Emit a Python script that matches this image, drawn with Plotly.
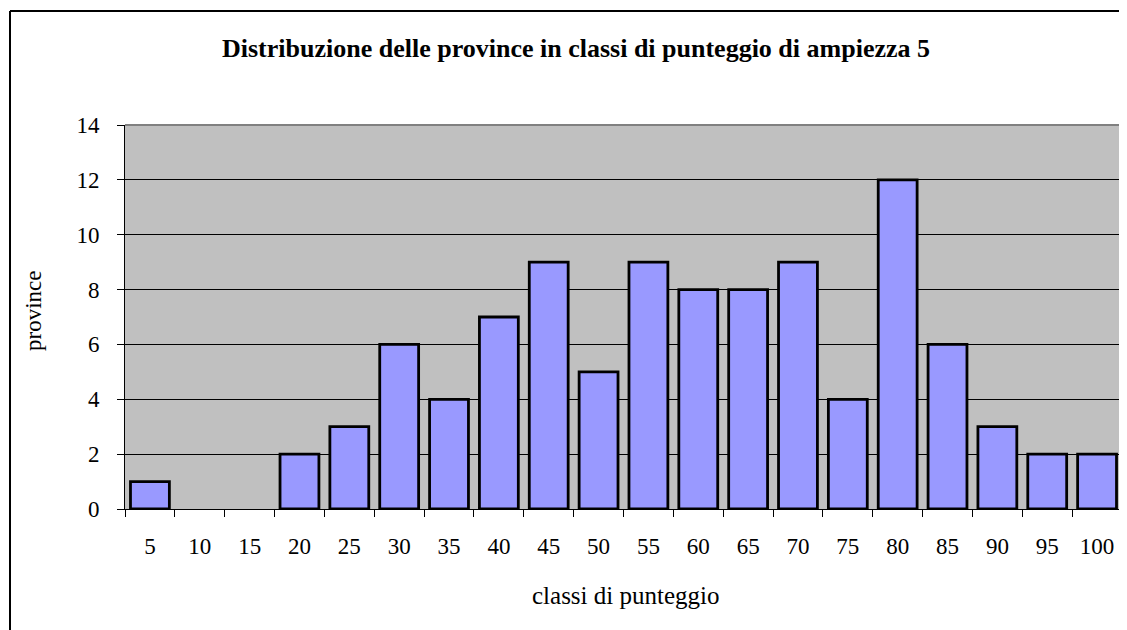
import plotly.graph_objects as go

categories = ["5", "10", "15", "20", "25", "30", "35", "40", "45", "50",
              "55", "60", "65", "70", "75", "80", "85", "90", "95", "100"]
values = [1, 0, 0, 2, 3, 6, 4, 7, 9, 5, 9, 8, 8, 9, 4, 12, 6, 3, 2, 2]
y_ticks = [0, 2, 4, 6, 8, 10, 12, 14]

FONT = "Liberation Serif"

fig = go.Figure()
fig.add_trace(go.Bar(
    x=categories, y=values,
    marker=dict(color="#9999FF",
                line=dict(color="black", width=[2.8 if v > 0 else 0 for v in values])),
    hoverinfo="x+y",
))

# page body has an 8px margin: figure is shifted by 8px right/down
fig.update_layout(
    width=1119, height=622,
    margin=dict(l=117, r=5, t=117, b=121),
    paper_bgcolor="white",
    plot_bgcolor="#C0C0C0",
    bargap=0.22,
    showlegend=False,
    font=dict(family=FONT, size=23, color="black"),
    title=dict(
        text="<b>Distribuzione delle province in classi di punteggio di ampiezza 5</b>",
        x=(576 - 8) / 1119, xref="container", xanchor="center",
        y=1 - (48 - 8) / 622, yref="container", yanchor="middle",
        font=dict(family=FONT, size=26, color="black"),
    ),
)

fig.update_xaxes(
    type="category",
    tickson="boundaries",
    ticks="outside", ticklen=7, tickcolor="black", tickwidth=1,
    showline=True, linecolor="black", linewidth=1,
    showgrid=False,
    ticklabelstandoff=16,
    tickfont=dict(family=FONT, size=23),
)
fig.update_yaxes(
    range=[0, 14],
    tickvals=y_ticks,
    ticks="outside", ticklen=7, tickcolor="black", tickwidth=1,
    showline=True, linecolor="black", linewidth=1,
    showgrid=True, gridcolor="black", gridwidth=1,
    zeroline=False,
    ticklabelstandoff=13,
    tickfont=dict(family=FONT, size=23),
)

# axis titles
fig.add_annotation(text="classi di punteggio", xref="paper", yref="paper",
                   x=(625 - 125) / 997, y=(509 - 595) / 384,
                   xanchor="center", yanchor="middle", showarrow=False,
                   font=dict(family=FONT, size=25, color="black"))
fig.add_annotation(text="province", xref="paper", yref="paper",
                   x=(33 - 125) / 997, y=(509 - 311) / 384, textangle=-90,
                   xanchor="center", yanchor="middle", showarrow=False,
                   font=dict(family=FONT, size=23, color="black"))

# gray top/right border of plot area
fig.add_shape(type="line", xref="paper", yref="paper", x0=0, x1=1, y0=1, y1=1,
              line=dict(color="#808080", width=2))
fig.add_shape(type="line", xref="paper", yref="paper", x0=1, x1=1, y0=0, y1=1,
              line=dict(color="#808080", width=2))

# outer chart border (left and top visible)
bx = (10 - 125) / 997
by = (509 - 11) / 384
fig.add_shape(type="line", xref="paper", yref="paper",
              x0=bx, x1=bx, y0=-0.4, y1=by, line=dict(color="black", width=2))
fig.add_shape(type="line", xref="paper", yref="paper",
              x0=bx, x1=1.02, y0=by, y1=by, line=dict(color="black", width=2))

fig.write_html("out.html")
